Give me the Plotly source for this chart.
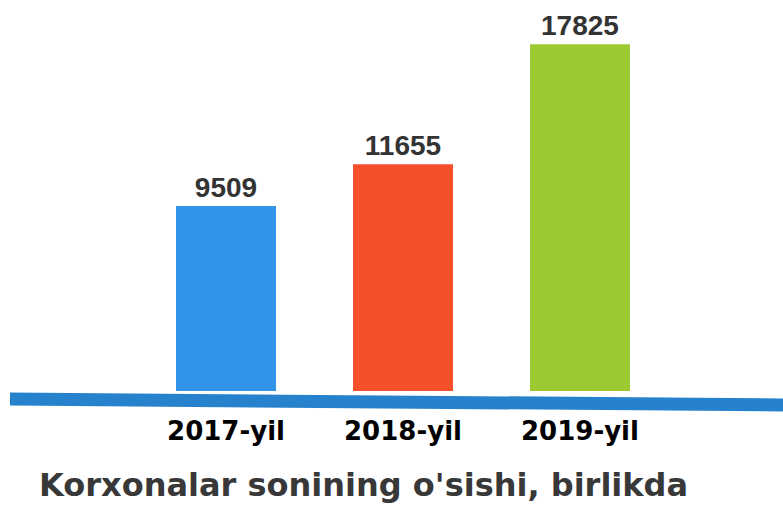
import plotly.graph_objects as go

categories = ["2017-yil", "2018-yil", "2019-yil"]
values = [9509, 11655, 17825]
bar_colors = ["#3094E8", "#F5502A", "#9BC92F"]
title_text = "Korxonalar sonining o'sishi, birlikda"

W, H = 783, 506
plot_bottom_px = 391

fig = go.Figure(
    go.Bar(
        x=categories,
        y=values,
        marker=dict(color=bar_colors, line=dict(width=0)),
        width=0.565,
        text=[str(v) for v in values],
        textposition="outside",
        textfont=dict(family="Liberation Sans, Arial", size=28, color="#333333", weight="bold"),
        cliponaxis=False,
        hoverinfo="skip",
    )
)

def px_to_paper(px, py):
    return px / W, (plot_bottom_px - py) / plot_bottom_px

pts = [(10, 392.5), (783, 398.5), (783, 411.5), (10, 405.5)]
path = "M " + " L ".join(f"{px_to_paper(x, y)[0]:.5f},{px_to_paper(x, y)[1]:.5f}" for x, y in pts) + " Z"

fig.add_shape(type="path", path=path, xref="paper", yref="paper",
              fillcolor="#2682CC", line=dict(width=0), layer="above")

fig.update_layout(
    width=W, height=H,
    margin=dict(l=0, r=0, t=0, b=H - plot_bottom_px),
    paper_bgcolor="white", plot_bgcolor="white",
    showlegend=False,
    title=dict(
        text=title_text,
        font=dict(family="DejaVu Sans", size=32, color="#383838", weight="bold"),
        xref="container", yref="container",
        x=39 / W, xanchor="left",
        y=0.02, yanchor="bottom",
    ),
    xaxis=dict(
        range=[-1.277, 3.147],
        showgrid=False, zeroline=False, showline=False, ticks="",
        tickfont=dict(family="DejaVu Sans", size=26, color="#000000", weight="bold"),
        ticklabelstandoff=22,
    ),
    yaxis=dict(range=[0, 20100], visible=False, showgrid=False, zeroline=False),
)

fig.write_html("out.html", config={"displayModeBar": False},
               post_script="document.body.style.margin='0';document.body.style.overflow='hidden';")
